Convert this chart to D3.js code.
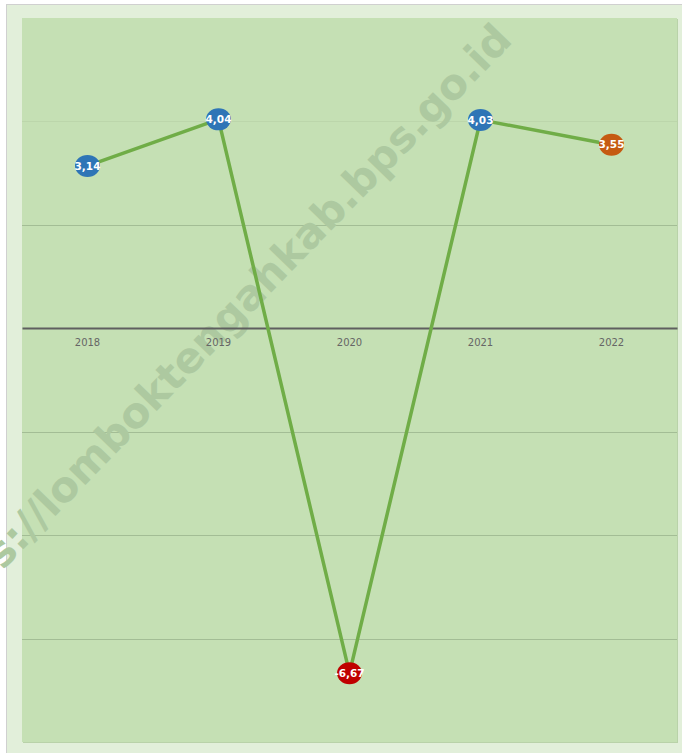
<!DOCTYPE html>
<html>
<head>
<meta charset="utf-8">
<script src="https://cdn.jsdelivr.net/npm/d3@7"></script>
<style>
  html, body { margin: 0; padding: 0; background: #ffffff; }
  svg { display: block; }
</style>
</head>
<body>
<div id="chart"></div>
<script>
// growth per year (%)
var years = ['2018', '2019', '2020', '2021', '2022'];
var values = [3.14, 4.04, -6.67, 4.03, 3.55];
var markerColors = ['#2e75b6', '#2e75b6', '#c00000', '#2e75b6', '#c55a11'];
var gridTicks = [-6, -4, -2, 2, 4];

var width = 682, height = 753;
var plot = { left: 22, top: 18, right: 677, bottom: 742 };

var svg = d3.select('#chart')
  .append('svg')
  .attr('width', width)
  .attr('height', height);

// outer chart area
svg.append('rect')
  .attr('x', 6.5).attr('y', 4.5)
  .attr('width', width - 6).attr('height', height - 4)
  .attr('fill', '#e2efda')
  .attr('stroke', '#d0d0d0');

// plot area + faint shadow
svg.append('rect')
  .attr('x', plot.left + 1).attr('y', plot.top + 1)
  .attr('width', plot.right - plot.left).attr('height', plot.bottom - plot.top)
  .attr('fill', '#b9d2a9');
svg.append('rect')
  .attr('x', plot.left).attr('y', plot.top)
  .attr('width', plot.right - plot.left).attr('height', plot.bottom - plot.top)
  .attr('fill', '#c5e0b4');

var x = d3.scaleBand()
  .domain(years)
  .range([plot.left, plot.right]);

var y = d3.scaleLinear()
  .domain([-8, 6])
  .range([plot.bottom, plot.top]);

// gridlines
svg.append('g')
  .selectAll('line')
  .data(gridTicks)
  .enter()
  .append('line')
  .attr('x1', plot.left).attr('x2', plot.right)
  .attr('y1', function (d) { return Math.round(y(d)) + 0.5; })
  .attr('y2', function (d) { return Math.round(y(d)) + 0.5; })
  .attr('stroke', function (d) { return d === 4 ? '#bcd6ab' : '#a3bd95'; })
  .attr('stroke-width', 1);

// watermark
svg.append('text')
  .attr('transform', 'translate(213,332) rotate(-46)')
  .attr('text-anchor', 'middle')
  .attr('dominant-baseline', 'central')
  .attr('font-family', 'DejaVu Sans, Verdana, sans-serif')
  .attr('font-weight', 'bold')
  .attr('font-size', 42)
  .attr('fill', '#adc9a0')
  .text('https://lomboktengahkab.bps.go.id');

// zero axis
var xAxis = svg.append('g')
  .attr('transform', 'translate(0,' + Math.round(y(0)) + ')')
  .call(d3.axisBottom(x).tickSize(0).tickPadding(11));
xAxis.select('.domain')
  .attr('stroke', '#5f5f5f')
  .attr('stroke-width', 2);
xAxis.selectAll('text')
  .attr('fill', '#666666')
  .attr('font-family', 'DejaVu Sans, Verdana, sans-serif')
  .attr('font-size', 10);

// line
var line = d3.line()
  .x(function (d, i) { return x(years[i]) + x.bandwidth() / 2; })
  .y(function (d) { return y(d); });

svg.append('path')
  .datum(values)
  .attr('d', line)
  .attr('fill', 'none')
  .attr('stroke', '#70ad47')
  .attr('stroke-width', 3.5)
  .attr('stroke-linejoin', 'round');

// markers
var pts = svg.append('g')
  .selectAll('g')
  .data(values)
  .enter()
  .append('g')
  .attr('transform', function (d, i) {
    return 'translate(' + (x(years[i]) + x.bandwidth() / 2) + ',' + y(d) + ')';
  });

pts.append('ellipse')
  .attr('rx', 12.5)
  .attr('ry', 11)
  .attr('fill', function (d, i) { return markerColors[i]; });

pts.append('text')
  .attr('text-anchor', 'middle')
  .attr('dy', '0.36em')
  .attr('fill', '#ffffff')
  .attr('font-family', 'DejaVu Sans, Verdana, sans-serif')
  .attr('font-weight', 'bold')
  .attr('font-size', 10.5)
  .text(function (d) { return d3.format('.2f')(d).replace('.', ',').replace('−', '-'); });
</script>
</body>
</html>
